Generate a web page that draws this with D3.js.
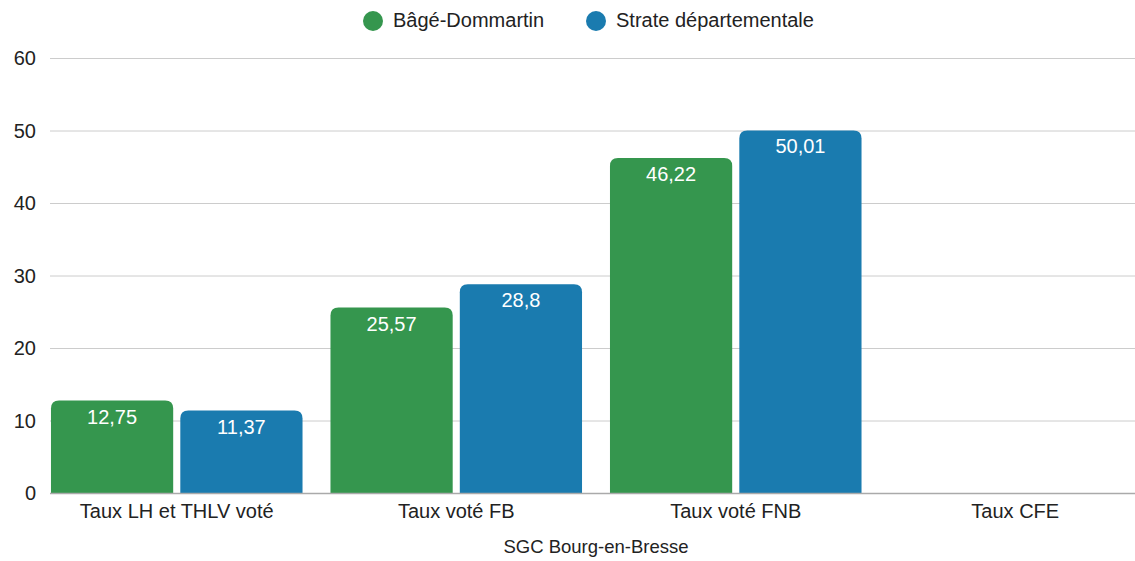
<!DOCTYPE html>
<html>
<head>
<meta charset="utf-8">
<script src="https://cdn.jsdelivr.net/npm/d3@7"></script>
<style>
  body { margin: 0; background: #fff; }
  svg { font-family: "Liberation Sans", Arial, sans-serif; }
</style>
</head>
<body>
<div id="chart"></div>
<script>
const categories = ["Taux LH et THLV voté", "Taux voté FB", "Taux voté FNB", "Taux CFE"]
const seriesNames = ["Bâgé-Dommartin", "Strate départementale"]
const commune = [12.75, 25.57, 46.22, null]
const strate = [11.37, 28.8, 50.01, null]
const yTicks = [0, 10, 20, 30, 40, 50, 60]
const colors = ["#35964e", "#1a7baf"]
const xTitle = "SGC Bourg-en-Bresse"

const width = 1135
const height = 561

const svg = d3.select("#chart")
  .append("svg")
  .attr("width", width)
  .attr("height", height)

const y = d3.scaleLinear().domain([0, 60]).range([493, 58])

// band range runs past the right edge, like the original chart
const x0 = d3.scaleBand().domain(categories).range([37, 1155]).paddingInner(0.1).paddingOuter(0.05)
const x1 = d3.scaleBand().domain(seriesNames).range([0, x0.bandwidth()]).paddingInner(0.055)

// grid
svg.append("g")
  .selectAll("line")
  .data(yTicks.filter(d => d > 0))
  .join("line")
  .attr("x1", 50)
  .attr("x2", width)
  .attr("y1", d => y(d) + 0.5)
  .attr("y2", d => y(d) + 0.5)
  .attr("stroke", "#cccccc")
  .attr("stroke-width", 1)

svg.append("g")
  .selectAll("text")
  .data(yTicks)
  .join("text")
  .attr("x", 36)
  .attr("y", d => y(d) + 7)
  .attr("text-anchor", "end")
  .attr("font-size", 20)
  .attr("fill", "#222")
  .text(d => d)

const rows = categories.map((c, i) => ({ cat: c, vals: [commune[i], strate[i]] }))

// top-rounded bar path
function barPath(x, w, top, bottom, r) {
  r = Math.min(r, (bottom - top), w / 2)
  return `M${x},${bottom}V${top + r}Q${x},${top} ${x + r},${top}H${x + w - r}Q${x + w},${top} ${x + w},${top + r}V${bottom}Z`
}

const groups = svg.append("g")
  .selectAll("g")
  .data(rows)
  .join("g")
  .attr("transform", d => `translate(${x0(d.cat)},0)`)

const bars = groups.selectAll("g")
  .data(d => d.vals.map((v, i) => ({ v, s: seriesNames[i], i })).filter(d => d.v != null))
  .join("g")

bars.append("path")
  .attr("d", d => barPath(x1(d.s), x1.bandwidth(), y(d.v), y(0), 8))
  .attr("fill", d => colors[d.i])

bars.append("text")
  .attr("x", d => x1(d.s) + x1.bandwidth() / 2)
  .attr("y", d => y(d.v) + 23)
  .attr("text-anchor", "middle")
  .attr("font-size", 20)
  .attr("fill", "#fff")
  .text(d => String(d.v).replace(".", ","))

// baseline
svg.append("line")
  .attr("x1", 50)
  .attr("x2", width)
  .attr("y1", y(0) + 0.5)
  .attr("y2", y(0) + 0.5)
  .attr("stroke", "#aaaaaa")
  .attr("stroke-width", 1.5)

svg.append("g")
  .selectAll("text")
  .data(categories)
  .join("text")
  .attr("x", d => x0(d) + x0.bandwidth() / 2)
  .attr("y", 518)
  .attr("text-anchor", "middle")
  .attr("font-size", 20)
  .attr("fill", "#222")
  .text(d => d)

svg.append("text")
  .attr("x", 596)
  .attr("y", 553)
  .attr("text-anchor", "middle")
  .attr("font-size", 18.5)
  .attr("fill", "#222")
  .text(xTitle)

// legend
const legendX = [373, 596]
const legend = svg.append("g")
  .selectAll("g")
  .data(seriesNames)
  .join("g")
  .attr("transform", (d, i) => `translate(${legendX[i]},21)`)

legend.append("circle")
  .attr("r", 10)
  .attr("fill", (d, i) => colors[i])

legend.append("text")
  .attr("x", 20)
  .attr("y", 6)
  .attr("font-size", 20)
  .attr("fill", "#222")
  .text(d => d)
</script>
</body>
</html>
